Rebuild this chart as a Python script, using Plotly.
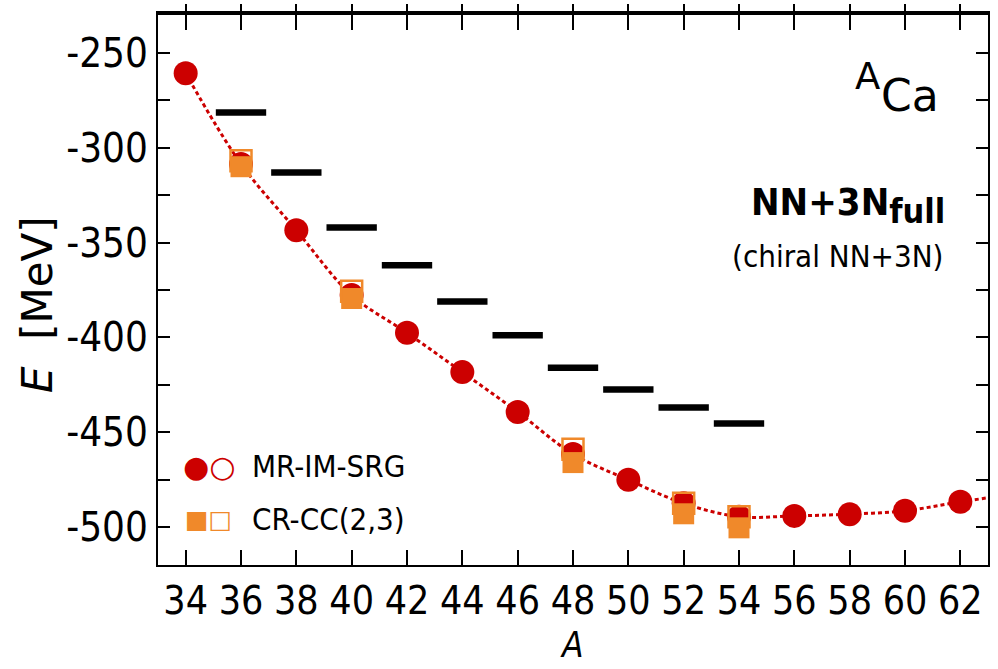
import plotly.graph_objects as go

# Ground-state energies of calcium isotopes (MeV)
A_theory = [34, 36, 38, 40, 42, 44, 46, 48, 50, 52, 54, 56, 58, 60, 62]
E_imsrg = [-260.7, -308.5, -343.5, -377.7, -397.6, -418.3, -439.3, -461.5,
           -475.1, -487.5, -494.5, -494.1, -493.2, -491.4, -486.7]

# smooth dotted guide through the MR-IM-SRG results, continued past A=62
A_fit = [34, 36, 38, 40, 42, 44, 46, 48, 50, 52, 54, 56, 58, 60, 62, 64]
E_fit = [-260.7, -308.5, -343.5, -377.7, -397.6, -418.3, -439.3, -461.5,
         -475.1, -487.5, -494.5, -494.1, -493.2, -491.4, -486.7, -482.5]

A_cc = [36, 40, 48, 52, 54]
E_cc_filled = [-310.0, -379.5, -466.0, -493.0, -500.4]
E_cc_open = [-306.9, -375.6, -459.0, -487.4, -494.6]

# experimental energies (horizontal bars)
A_exp = [36, 38, 40, 42, 44, 46, 48, 50, 52, 54]
E_exp = [-281.4, -313.1, -342.0, -361.9, -381.0, -398.8, -416.0, -427.5, -437.0, -445.4]

x_ticks = [34, 36, 38, 40, 42, 44, 46, 48, 50, 52, 54, 56, 58, 60, 62]
x_ticktext = ["34", "36", "38", "40", "42", "44", "46", "48", "50", "52", "54",
              "56", "58", "60", "62"]
y_ticks = [-250, -300, -350, -400, -450, -500]
y_ticktext = ["-250", "-300", "-350", "-400", "-450", "-500"]

RED = "#cc0000"
ORANGE = "#f0892a"
COND = "DejaVu Sans Condensed, DejaVu Sans, sans-serif"

fig = go.Figure()

fig.add_trace(go.Scatter(
    x=A_fit, y=E_fit, mode="lines",
    line=dict(color=RED, width=3, dash="4px,3px", shape="spline"),
    hoverinfo="skip", showlegend=False))

fig.add_trace(go.Scatter(
    x=A_exp, y=E_exp, mode="markers", xaxis="x2",
    marker=dict(size=1, opacity=0),
    error_x=dict(type="constant", value=0.91, thickness=6.5, width=0, color="black"),
    showlegend=False, name="Experiment"))

fig.add_trace(go.Scatter(
    x=A_theory, y=E_imsrg, mode="markers",
    marker=dict(symbol="circle", size=24, color=RED, line=dict(width=0)),
    showlegend=False, name="MR-IM-SRG"))

fig.add_trace(go.Scatter(
    x=A_cc, y=E_cc_filled, mode="markers",
    marker=dict(symbol="square", size=21, color=ORANGE, line=dict(width=0)),
    showlegend=False, name="CR-CC(2,3)"))

fig.add_trace(go.Scatter(
    x=A_cc, y=E_cc_open, mode="markers",
    marker=dict(symbol="square-open", size=21, color=ORANGE, line=dict(width=2.5, color=ORANGE)),
    showlegend=False, name="CR-CC(2,3) open"))

axis_common = dict(showgrid=False, zeroline=False, showline=True, linecolor="black",
                   tickcolor="black")

fig.update_layout(
    width=998, height=669,
    margin=dict(l=158, r=8, t=14, b=104),
    paper_bgcolor="white", plot_bgcolor="white",
    xaxis=dict(range=[33, 63], tickvals=x_ticks, ticktext=x_ticktext,
               ticks="inside", ticklen=15, tickwidth=1.5,
               linewidth=2.2, mirror="allticks",
               tickfont=dict(family=COND, size=39, color="black"),
               **axis_common),
    xaxis2=dict(range=[33, 63], overlaying="x", side="top", tickvals=x_ticks,
                ticks="outside", ticklen=7, tickwidth=1.5, linewidth=4,
                showticklabels=False, **axis_common),
    yaxis=dict(range=[-520, -230], tickvals=y_ticks, ticktext=y_ticktext,
               ticks="inside", ticklen=12, tickwidth=1.5, linewidth=2.2, mirror="allticks",
               minor=dict(dtick=25, tick0=0, ticks="inside", ticklen=7, tickwidth=1.5,
                          tickcolor="black", showgrid=False),
               tickfont=dict(family=COND, size=40, color="black"),
               **axis_common),
)


def px(x):
    return (x - 157.7) / 832.3


def py(y):
    return (565 - y) / 551


annotations = [
    dict(text="A", x=px(884), y=py(76), xanchor="right", yanchor="middle",
         font=dict(family="DejaVu Sans", size=37, color="black")),
    dict(text="Ca", x=px(943), y=py(95), xanchor="right", yanchor="middle",
         font=dict(family="DejaVu Sans", size=44, color="black")),
    dict(text="<b>NN+3N<sub><span style='font-size:34px'>full</span></sub></b>",
         x=px(949), y=py(205), xanchor="right", yanchor="middle",
         font=dict(family=COND, size=38, color="black")),
    dict(text="(chiral NN+3N)", x=px(947), y=py(255), xanchor="right", yanchor="middle",
         font=dict(family=COND, size=31, color="black")),
    dict(text="<span style='color:%s'>●○</span>" % RED, x=px(209), y=py(466),
         xanchor="center", yanchor="middle",
         font=dict(family="DejaVu Sans", size=30)),
    dict(text="MR-IM-SRG", x=px(250), y=py(466), xanchor="left", yanchor="middle",
         font=dict(family=COND, size=31, color="black")),
    dict(text="<span style='color:%s'>■□</span>" % ORANGE, x=px(208), y=py(519),
         xanchor="center", yanchor="middle",
         font=dict(family="DejaVu Sans", size=25)),
    dict(text="CR-CC(2,3)", x=px(250), y=py(519), xanchor="left", yanchor="middle",
         font=dict(family=COND, size=31, color="black")),
    dict(text="<i>A</i>", x=px(573), y=py(645), xanchor="center", yanchor="middle",
         font=dict(family=COND, size=35, color="black")),
    dict(text="<i>E</i>&nbsp;&nbsp;[MeV]", x=px(37), y=py(304), xanchor="center",
         yanchor="middle", textangle=-90,
         font=dict(family="DejaVu Sans", size=42, color="black")),
]
for a in annotations:
    a.update(xref="paper", yref="paper", showarrow=False)
fig.update_layout(annotations=annotations)

fig.write_html("out.html")
